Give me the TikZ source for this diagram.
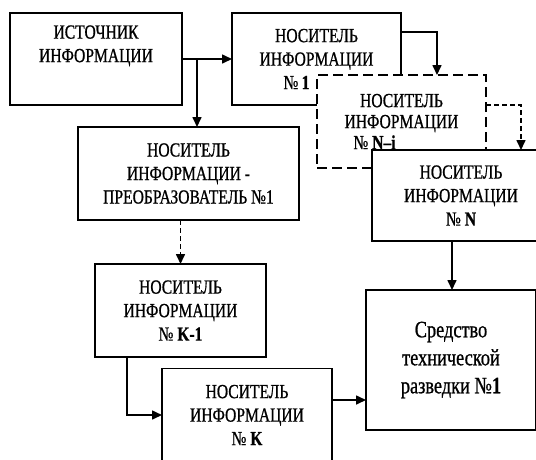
\documentclass[tikz,border=0pt]{standalone}
\usepackage{fontspec}
\setmainfont{Liberation Serif}[FakeStretch=0.78,FakeBold=0.8]
\usetikzlibrary{arrows.meta}
\begin{document}
\begin{tikzpicture}[x=1pt,y=-1pt,
	box/.style={draw,fill=white,line width=1.6pt,align=center,inner sep=0,outer sep=0,minimum width=169pt,minimum height=92pt,font=\fontsize{20}{23.5}\selectfont},
	arr/.style={line width=1.6pt,-{Triangle[length=10pt,width=9pt]}},
	dsh/.style={dash pattern=on 10pt off 5pt},
	dsharr/.style={dash pattern=on 5pt off 3pt}]
	\useasboundingbox (0,0) rectangle (536,459);
	\node[box,minimum width=172pt] (1) at (96,59) {ИСТОЧНИК\\ИНФОРМАЦИИ\\\strut};
	\node[box] (2) at (316.5,59) {НОСИТЕЛЬ\\ИНФОРМАЦИИ\\№\,\textbf{1}\hspace*{40pt}};
	\node[box,minimum width=221pt,minimum height=93pt] (4) at (188.5,173.5) {НОСИТЕЛЬ\\ИНФОРМАЦИИ -\\ПРЕОБРАЗОВАТЕЛЬ №1};
	\node[box,minimum width=171pt,minimum height=93pt] (5) at (180.5,310.5) {НОСИТЕЛЬ\\ИНФОРМАЦИИ\\№ \textbf{K-1}};
	\node[box,minimum width=170pt,minimum height=93pt] (6) at (247,415) {НОСИТЕЛЬ\\ИНФОРМАЦИИ\\№ \textbf{K}};
	\node[box,minimum width=170pt,minimum height=140pt,font=\fontsize{23.5}{28}\selectfont] (8) at (451,360) {Средство\\технической\\разведки №\textbf{1}};
	\node[box,dsh,minimum height=93pt,font=\fontsize{20}{21}\selectfont] (3) at (401.5,121.5) {НОСИТЕЛЬ\\ИНФОРМАЦИИ\\№ \textbf{N–i}\hspace*{54pt}};
	\node[box,minimum width=178pt,minimum height=91pt] (7) at (461,195.5) {НОСИТЕЛЬ\\ИНФОРМАЦИИ\\№ \textbf{N}};
	\draw[arr] (1.east) -- (2.west);
	\draw[arr] ([xshift=15pt]1.east) -- ([xshift=8.5pt]4.north);
	\draw[arr] ([yshift=27pt]2.east) -| ([xshift=35.5pt]3.north);
	\draw[arr,dsharr] ([yshift=16.5pt]3.east) -| ([xshift=60pt]7.north);
	\draw[arr,dsharr] (5.north |- 4.south) -- (5.north);
	\draw[arr] ([xshift=-53.5pt]5.south) |- (6.west);
	\draw[arr] ([yshift=15pt]6.east) -- ([yshift=15pt]6.east -| 8.west);
	\draw[arr] ([xshift=-9pt]7.south) -- ([xshift=-9pt]7.south |- 8.north);
\end{tikzpicture}
\end{document}
